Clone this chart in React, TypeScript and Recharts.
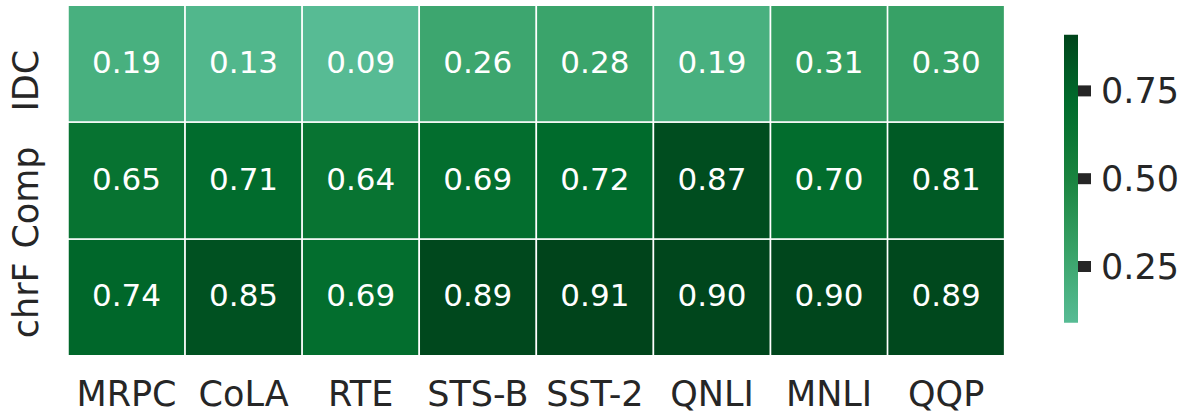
import { BarChart, Bar, XAxis, YAxis, Cell, LabelList } from 'recharts';

const tasks = ['MRPC', 'CoLA', 'RTE', 'STS-B', 'SST-2', 'QNLI', 'MNLI', 'QQP'];
const rowLabels = ['chrF', 'Comp', 'IDC']; // bottom to top
const idcScores = [0.19, 0.13, 0.09, 0.26, 0.28, 0.19, 0.31, 0.3];
const compScores = [0.65, 0.71, 0.64, 0.69, 0.72, 0.87, 0.7, 0.81];
const chrfScores = [0.74, 0.85, 0.69, 0.89, 0.91, 0.9, 0.9, 0.89];
const colorbarTicks = [0.25, 0.5, 0.75];
const vMin = 0.09;
const vMax = 0.91;

// green colormap
const cmap: [number, string][] = [
  [0.09, '#57bb94'],
  [0.19, '#48b07f'],
  [0.3, '#37a166'],
  [0.5, '#1a843f'],
  [0.65, '#077331'],
  [0.72, '#006b2c'],
  [0.81, '#005a25'],
  [0.91, '#00441b'],
];

const FONT = '"DejaVu Sans", sans-serif';
const TEXT = '#262626';
// the row labels sit a little below the row centres in the reference
const rowLabelShift = [3, 17, 17];

const hexToRgb = (h: string) => [1, 3, 5].map((i) => parseInt(h.slice(i, i + 2), 16));

const colorFor = (v: number) => {
  if (v <= cmap[0][0]) return cmap[0][1];
  for (let i = 1; i < cmap.length; i++) {
    const [v1, c1] = cmap[i];
    const [v0, c0] = cmap[i - 1];
    if (v <= v1) {
      const t = (v - v0) / (v1 - v0);
      const a = hexToRgb(c0);
      const b = hexToRgb(c1);
      const rgb = a.map((x, k) => Math.round(x + (b[k] - x) * t));
      return `rgb(${rgb.join(',')})`;
    }
  }
  return cmap[cmap.length - 1][1];
};

const tableData = tasks.map((task, i) => ({
  task,
  chrf: chrfScores[i],
  comp: compScores[i],
  idc: idcScores[i],
  unit: 1,
}));

const rows = [
  { key: 'chrf', scores: chrfScores },
  { key: 'comp', scores: compScores },
  { key: 'idc', scores: idcScores },
];

const CellLabel = (props: any) => {
  const { x, y, width, height, value } = props;
  return (
    <text
      x={x + width / 2}
      y={y + height / 2}
      dy={9}
      textAnchor="middle"
      fill="#ffffff"
      fontSize={31}
      fontFamily={FONT}
    >
      {Number(value).toFixed(2)}
    </text>
  );
};

const RowTick = (props: any) => {
  const { x, y, payload } = props;
  const idx = Math.floor(payload.value);
  const cy = y + rowLabelShift[idx];
  return (
    <text
      x={x}
      y={cy}
      transform={`rotate(-90, ${x}, ${cy})`}
      textAnchor="middle"
      fill={TEXT}
      fontSize={35}
      fontFamily={FONT}
    >
      {rowLabels[idx]}
    </text>
  );
};

// top of the bar is vMax, so walk the colormap from the dark end
const gradientStops = [...cmap].reverse().map(([v, c]) => ({
  offset: ((vMax - v) / (vMax - vMin)) * 100,
  color: c,
}));

const App = () => {
  return (
    <div style={{ position: 'absolute', left: 0, top: 0, width: 1190, height: 417, background: '#fff' }}>
      <div style={{ position: 'absolute', left: 0, top: 0 }}>
        <BarChart
          width={1190}
          height={417}
          data={tableData}
          margin={{ top: 5.3, right: 185.3, bottom: 0, left: 0 }}
          barCategoryGap={0}
          barGap={0}
        >
          <XAxis
            dataKey="task"
            height={61.3}
            axisLine={false}
            tickLine={false}
            tickSize={0}
            tickMargin={25}
            interval={0}
            tick={{ fill: TEXT, fontSize: 35, fontFamily: FONT }}
          />
          <YAxis
            type="number"
            domain={[0, 3]}
            ticks={[0.5, 1.5, 2.5]}
            width={68}
            axisLine={false}
            tickLine={false}
            tickSize={0}
            tickMargin={30}
            tick={<RowTick />}
          />
          {rows.map((row) => (
            <Bar
              key={row.key}
              dataKey="unit"
              stackId="grid"
              stroke="#ffffff"
              strokeWidth={1.5}
              isAnimationActive={false}
            >
              {row.scores.map((s, i) => (
                <Cell key={i} fill={colorFor(s)} />
              ))}
              <LabelList dataKey={row.key} content={<CellLabel />} />
            </Bar>
          ))}
        </BarChart>
      </div>
      <div style={{ position: 'absolute', left: 1064, top: 0 }}>
        <BarChart
          width={126}
          height={417}
          data={[{ name: 'scale', span: [vMin, vMax] }]}
          margin={{ top: 34.7, right: 12, bottom: 94.3, left: 0 }}
          barCategoryGap={0}
        >
          <defs>
            <linearGradient id="cbGrad" x1="0" y1="0" x2="0" y2="1">
              {gradientStops.map((s, i) => (
                <stop key={i} offset={`${s.offset}%`} stopColor={s.color} />
              ))}
            </linearGradient>
          </defs>
          <XAxis dataKey="name" hide />
          <YAxis
            type="number"
            orientation="right"
            domain={[vMin, vMax]}
            ticks={colorbarTicks}
            width={100}
            axisLine={false}
            tickLine={{ stroke: TEXT, strokeWidth: 11 }}
            tickSize={13}
            tickMargin={10}
            tickFormatter={(v: number) => v.toFixed(2)}
            tick={{ fill: TEXT, fontSize: 35, fontFamily: FONT }}
          />
          <Bar dataKey="span" fill="url(#cbGrad)" isAnimationActive={false} />
        </BarChart>
      </div>
    </div>
  );
};

export default App;
